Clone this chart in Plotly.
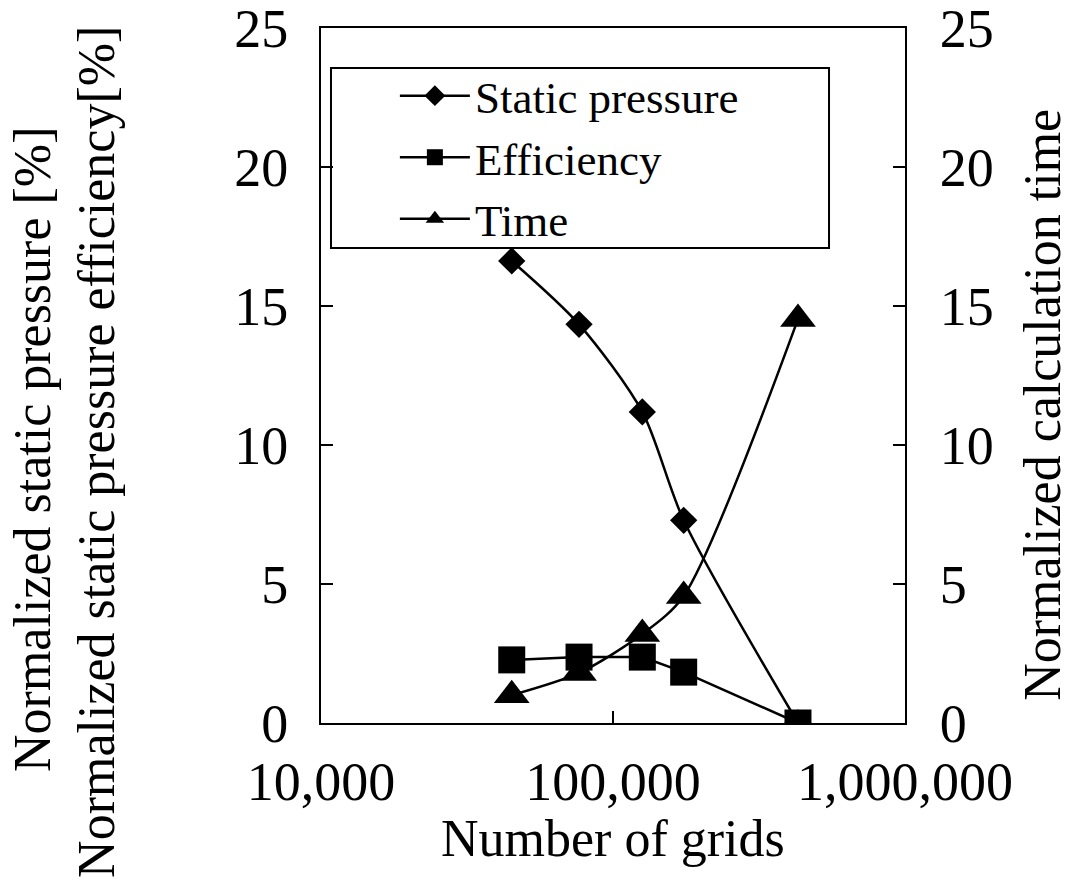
import plotly.graph_objects as go

# Grid counts tested and normalized results
grids = [45000, 76500, 126000, 174600, 430000]
static_pressure = [16.62, 14.34, 11.19, 7.29, 0.0]
efficiency = [2.27, 2.37, 2.37, 1.83, 0.0]
calc_time = [1.0, 1.8, 3.2, 4.57, 14.53]

x_tickvals = [10000, 100000, 1000000]
x_ticktext = ["10,000", "100,000", "1,000,000"]
y_tickvals = [0, 5, 10, 15, 20, 25]

FONT = "Liberation Serif"
TICK_FS = 54
TITLE_FS = 52
LEGEND_FS = 45

fig = go.Figure()
fig.add_trace(go.Scatter(
    x=grids, y=static_pressure, name="Static pressure", mode="lines+markers",
    line=dict(color="black", width=2.5, shape="spline", smoothing=0.8),
    marker=dict(symbol="diamond", size=21, color="black"),
))
fig.add_trace(go.Scatter(
    x=grids, y=efficiency, name="Efficiency", mode="lines+markers",
    line=dict(color="black", width=2.5),
    marker=dict(symbol="square", size=27, color="black"),
))
fig.add_trace(go.Scatter(
    x=grids, y=calc_time, name="Time", mode="lines+markers", yaxis="y2",
    line=dict(color="black", width=2.5, shape="spline", smoothing=0.8),
    marker=dict(symbol="triangle-up", size=31, color="black"),
))

axis_common = dict(
    showline=True, linecolor="black", linewidth=2,
    ticks="inside", ticklen=12, tickwidth=2, tickcolor="black",
    showgrid=False, zeroline=False, automargin=False,
    ticklabeloverflow="allow",
    tickfont=dict(family=FONT, size=TICK_FS, color="black"),
)

fig.update_layout(
    width=1071, height=886,
    margin=dict(l=321, r=166, t=28, b=163),
    paper_bgcolor="white", plot_bgcolor="white",
    font=dict(family=FONT, size=TITLE_FS, color="black"),
    xaxis=dict(type="log", range=[4, 6], tickvals=x_tickvals, ticktext=x_ticktext,
               mirror=True, ticklabelstandoff=10, **axis_common),
    yaxis=dict(range=[0, 25], tickvals=y_tickvals, ticklabelstandoff=20, **axis_common),
    yaxis2=dict(range=[0, 25], tickvals=y_tickvals, overlaying="y", side="right",
                ticklabelstandoff=22, **axis_common),
    legend=dict(x=0.1265, y=0.954, xanchor="left", yanchor="top",
                bgcolor="rgba(0,0,0,0)", borderwidth=0,
                font=dict(family=FONT, size=LEGEND_FS, color="black"),
                itemwidth=70, tracegroupgap=0),
    showlegend=True,
    # legend frame
    shapes=[dict(type="rect", xref="paper", yref="paper",
                 x0=0.0171, x1=0.8699, y0=0.6835, y1=0.9424,
                 line=dict(color="black", width=2), fillcolor="white", layer="below")],
)

# Axis titles
fig.add_annotation(text="Number of grids", xref="paper", yref="paper",
                   x=0.5, y=-0.1655, xanchor="center", yanchor="middle",
                   showarrow=False, font=dict(family=FONT, size=TITLE_FS))
fig.add_annotation(text="Normalized static pressure [%]", xref="paper", yref="paper",
                   x=-0.493, y=0.393, xanchor="center", yanchor="middle",
                   textangle=-90, showarrow=False, font=dict(family=FONT, size=TITLE_FS))
fig.add_annotation(text="Normalized static pressure efficiency[%]", xref="paper", yref="paper",
                   x=-0.3836, y=0.39, xanchor="center", yanchor="middle",
                   textangle=-90, showarrow=False, font=dict(family=FONT, size=TITLE_FS))
fig.add_annotation(text="Normalized calculation time", xref="paper", yref="paper",
                   x=1.236, y=0.4576, xanchor="center", yanchor="middle",
                   textangle=-90, showarrow=False, font=dict(family=FONT, size=TITLE_FS))

fig.write_html("out.html")
